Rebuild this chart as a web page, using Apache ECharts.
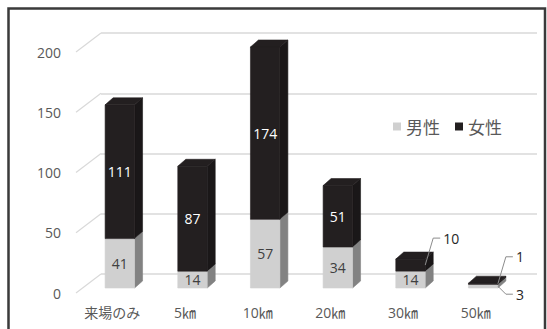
<!DOCTYPE html>
<html>
<head>
<meta charset="utf-8">
<script src="https://cdn.jsdelivr.net/npm/echarts@6/dist/echarts.min.js"></script>
<style>
html,body{margin:0;padding:0;background:#fff;}
#c{width:547px;height:329px;}
</style>
</head>
<body>
<div id="c"></div>
<script>
// ---- data ----
var categories = ['来場のみ', '5㎞', '10㎞', '20㎞', '30㎞', '50㎞'];
var male = [41, 14, 57, 34, 14, 3];
var female = [111, 87, 174, 51, 10, 1];
var yTicks = [0, 50, 100, 150, 200];
var seriesNames = ['男性', '女性'];

var Y_MAX = 200;
var FONT = '"Open Sans","Noto Sans CJK JP",sans-serif';

var chart = echarts.init(document.getElementById('c'), null, {renderer: 'svg'});

function segRenderer(colors, isTop) {
  return function (params, api) {
    var i = api.value(0), lo = api.value(1), hi = api.value(2);
    var v = api.value(3);
    var loC = Math.min(lo, Y_MAX), hiC = Math.min(hi, Y_MAX);
    var p0 = api.coord([i, loC]);
    var p1 = api.coord([i, hiC]);
    var band = api.size([1, 0])[0];
    var w = band * 0.405;
    var offX = -17.5, offY = 14;
    var cx = p0[0] + offX;
    var yb = p0[1] + offY, yt = p1[1] + offY;
    var xl = cx - w / 2, xr = cx + w / 2;
    var dx = 8, dy = -7;
    var children = [
      {type: 'polygon', shape: {points: [[xr, yb], [xr + dx, yb + dy], [xr + dx, yt + dy], [xr, yt]]},
        style: {fill: colors.side, stroke: colors.side, lineWidth: 0.6}},
      {type: 'polygon', shape: {points: [[xl, yt], [xl + dx, yt + dy], [xr + dx, yt + dy], [xr, yt]]},
        style: {fill: colors.top, stroke: colors.top, lineWidth: 0.6}},
      {type: 'rect', shape: {x: xl, y: yt, width: w, height: yb - yt},
        style: {fill: colors.front, stroke: colors.front, lineWidth: 0.6}}
    ];
    var h = yb - yt;
    if (h >= 15) {
      children.push({type: 'text', style: {text: String(v), x: cx, y: (yb + yt) / 2,
        fill: colors.label, fontSize: 14, fontFamily: FONT, align: 'center', verticalAlign: 'middle'}});
    } else {
      var sx = xr, sy = (yb + yt) / 2;
      var ex, ey;
      if (isTop) { ex = sx + 8; ey = sy - 27; } else { ex = sx + 8; ey = sy + 8; }
      children.push({type: 'polyline', shape: {points: [[sx, sy], [ex, ey], [ex + 7, ey]]},
        style: {stroke: '#8c8c8c', lineWidth: 1, fill: null}});
      children.push({type: 'text', style: {text: String(v), x: ex + 10, y: ey,
        fill: '#262626', fontSize: 14, fontFamily: FONT, align: 'left', verticalAlign: 'middle'}});
    }
    return {type: 'group', children: children};
  };
}

var maleData = categories.map(function (c, i) { return [i, 0, male[i], male[i]]; });
var femaleData = categories.map(function (c, i) { return [i, male[i], male[i] + female[i], female[i]]; });
var tickData = yTicks.map(function (v) { return [0, v]; });

chart.setOption({
  animation: false,
  textStyle: {fontFamily: FONT},
  graphic: [{type: 'rect', shape: {x: 8.5, y: 8.5, width: 536.5, height: 330},
    style: {fill: null, stroke: '#3a3a3a', lineWidth: 2.5}, z: 100}],
  legend: {
    left: 388, top: 113, itemWidth: 8, itemHeight: 8, itemGap: 15,
    icon: 'rect',
    textStyle: {fontSize: 17, color: '#595959', fontFamily: '"Noto Sans CJK JP",sans-serif'},
    data: seriesNames
  },
  grid: [
    {left: 101, right: 10, top: 33, bottom: 55},
    {left: 76, right: 35, top: 52, bottom: 36}
  ],
  xAxis: [
    {type: 'category', gridIndex: 0, data: categories, axisLine: {show: false}, axisTick: {show: false},
      axisLabel: {show: false}},
    {type: 'category', gridIndex: 1, data: categories, axisLine: {show: false}, axisTick: {show: false},
      axisLabel: {color: '#595959', fontSize: 14, margin: 12, interval: 0, fontFamily: FONT}}
  ],
  yAxis: [
    {type: 'value', gridIndex: 0, min: 0, max: Y_MAX, interval: 50,
      axisLine: {show: false}, axisTick: {show: false}, axisLabel: {show: false},
      splitLine: {lineStyle: {color: '#d9d9d9', width: 1.5}}},
    {type: 'value', gridIndex: 1, min: 0, max: Y_MAX, interval: 50,
      axisLine: {show: false}, axisTick: {show: false}, splitLine: {show: false},
      axisLabel: {color: '#595959', fontSize: 14, margin: 15, fontFamily: FONT}}
  ],
  series: [
    {type: 'custom', name: '_ticks', xAxisIndex: 0, yAxisIndex: 0, silent: true,
      renderItem: function (params, api) {
        var p = api.coord([0, api.value(1)]);
        var x = params.coordSys.x;
        return {type: 'line', shape: {x1: x, y1: p[1], x2: x - 25, y2: p[1] + 19},
          style: {stroke: '#d9d9d9', lineWidth: 1.2}};
      },
      data: tickData, z: 1},
    {type: 'custom', name: seriesNames[0], xAxisIndex: 0, yAxisIndex: 0,
      itemStyle: {color: '#d0d0d0'},
      renderItem: segRenderer({front: '#d0d0d0', side: '#828282', top: '#e6e6e6', label: '#404040'}, false),
      data: maleData, z: 2},
    {type: 'custom', name: seriesNames[1], xAxisIndex: 0, yAxisIndex: 0,
      itemStyle: {color: '#231f20'},
      renderItem: segRenderer({front: '#231f20', side: '#1a1718', top: '#231f20', label: '#ffffff'}, true),
      data: femaleData, z: 3}
  ]
});
</script>
</body>
</html>
